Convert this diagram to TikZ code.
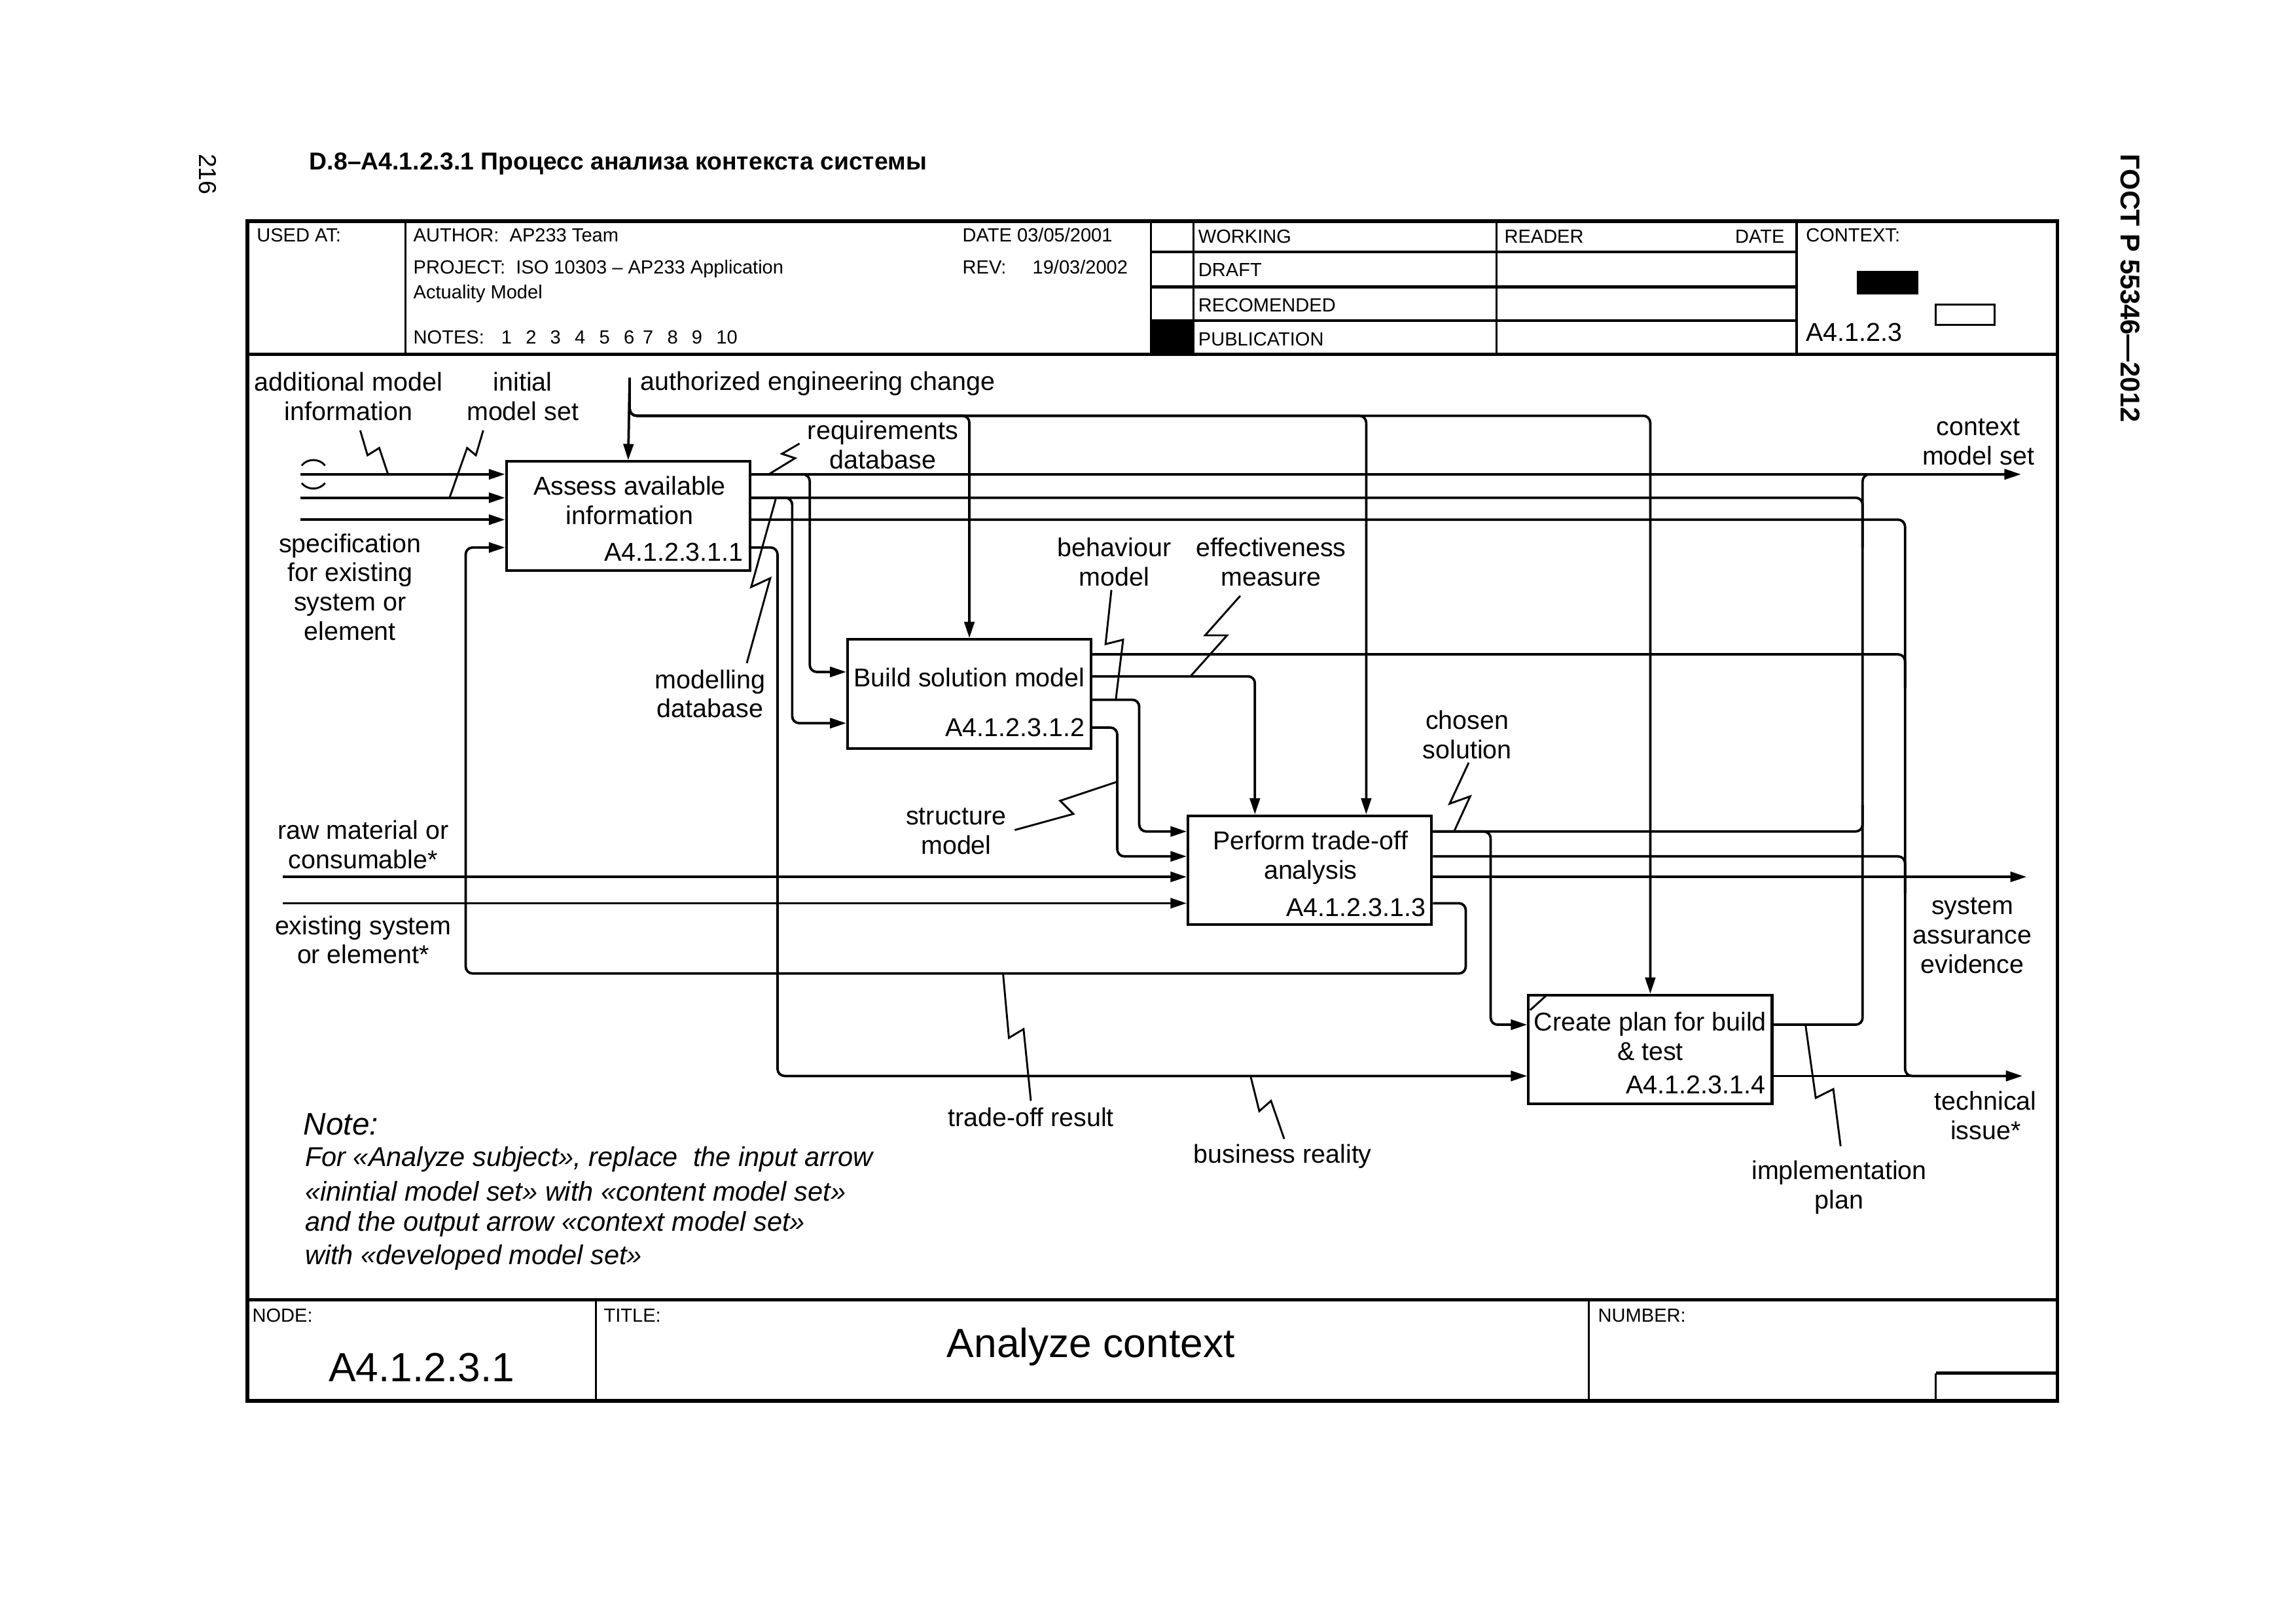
\documentclass[tikz,border=0pt]{standalone}
\usepackage{fontspec}
\setmainfont{Liberation Sans}
\usetikzlibrary{arrows.meta}
\begin{document}
\begin{tikzpicture}[x=0.18941mm,y=-0.18941mm,
  frm/.style={line width=1.3pt},
  hline/.style={line width=1.1pt},
  vline/.style={line width=0.8pt},
  procbox/.style={draw,line width=1pt,minimum width=31.5mm,minimum height=14.1mm,inner sep=0pt},
  conn/.style={line width=0.9pt,rounded corners=0.9mm},
  arr/.style={conn,-{Triangle[length=2.1mm,width=1.3mm]}},
  squig/.style={line width=0.7pt},
  lbl/.style={font=\fontsize{9.5}{10.8}\selectfont,align=center,inner sep=0pt},
  hdr/.style={font=\fontsize{7}{8}\selectfont,inner sep=0pt,anchor=base west},
  notetxt/.style={font=\fontsize{10}{11}\selectfont\itshape,inner sep=0pt,anchor=west},
  boxnum/.style={font=\fontsize{9.5}{11}\selectfont,inner sep=0pt,anchor=east},
]
\useasboundingbox (0,0) rectangle (1568,1109);
% page texts
\node[font=\fontsize{9}{10}\selectfont,rotate=-90,inner sep=0pt] (pg) at (142,119) {216};
\node[font=\fontsize{9}{10}\selectfont\bfseries,anchor=west,inner sep=0pt] (ttl) at (211,112) {D.8–A4.1.2.3.1 Процесс анализа контекста системы};
\node[font=\fontsize{10}{11}\selectfont\bfseries,rotate=-90,inner sep=0pt] (gost) at (1455,197) {ГОСТ Р 55346—2012};
% frame
\draw[frm] (169,151) rectangle (1405,957);
\draw[frm] (169,242) -- (1405,242);
\draw[frm] (169,888) -- (1405,888);
\draw[vline] (277,151) -- (277,242);
\draw[vline] (786,151) -- (786,242);
\draw[vline] (815,151) -- (815,242);
\draw[vline] (1022,151) -- (1022,242);
\draw[vline] (1227,151) -- (1227,242);
\draw[hline] (786,172) -- (1227,172);
\draw[hline] (786,196) -- (1227,196);
\draw[hline] (786,219) -- (1227,219);
\fill (786,219) rectangle (815,242);
\fill (1268,185) rectangle (1310,201);
\draw[vline] (1322,208) rectangle (1362,222);
\draw[vline] (407,888) -- (407,957);
\draw[vline] (1085,888) -- (1085,957);
\draw[vline] (1322,938) -- (1322,957);
\draw[hline] (1322,938) -- (1405,938);
% header texts
\node[hdr] (usedat) at (175,165) {USED AT:};
\node[hdr] (author) at (282,165) {AUTHOR:\ \ AP233 Team};
\node[hdr] (project) at (282,187) {PROJECT:\ \ ISO 10303 – AP233 Application};
\node[hdr] (actual) at (282,204) {Actuality Model};
\node[hdr] (notes) at (282,235) {NOTES:\hspace{2.2mm}1\hspace{1.8mm}2\hspace{1.8mm}3\hspace{1.8mm}4\hspace{1.8mm}5\hspace{1.8mm}6\hspace{1.1mm}7\hspace{1.8mm}8\hspace{1.8mm}9\hspace{1.8mm}10};
\node[hdr] (date) at (657,165) {DATE 03/05/2001};
\node[hdr] (rev) at (657,187) {REV:\hspace{3.4mm}19/03/2002};
\node[hdr] (working) at (818,166) {WORKING};
\node[hdr] (draft) at (818,189) {DRAFT};
\node[hdr] (recom) at (818,213) {RECOMENDED};
\node[hdr] (publ) at (818,236) {PUBLICATION};
\node[hdr] (reader) at (1027,166) {READER};
\node[hdr,anchor=base east] (rdate) at (1219,166) {DATE};
\node[hdr] (context) at (1233,165) {CONTEXT:};
\node[font=\fontsize{9.5}{11}\selectfont,inner sep=0pt,anchor=base west] (ctxn) at (1233,233) {A4.1.2.3};
\node[hdr] (nodel) at (172,903) {NODE:};
\node[hdr] (titlel) at (412,903) {TITLE:};
\node[hdr] (numl) at (1091,903) {NUMBER:};
\node[font=\fontsize{15}{18}\selectfont,inner sep=0pt] (nodenum) at (288,934) {A4.1.2.3.1};
\node[font=\fontsize{15}{18}\selectfont,inner sep=0pt] (titletxt) at (745,920) {Analyze context};
% level helpers
\foreach \v in {284,324,340,355,374,447,459,462,470,478,494,497,550,568,585,599,610,617,665,700,735}
  \coordinate (L\v) at (0,\v);
\foreach \v in {318,531,541,553,763,778,857,933,1001,1018,1272,1301}
  \coordinate (X\v) at (\v,0);
% boxes
\node[procbox] (b1) at (429,352.5) {};
\node[procbox] (b2) at (662,474) {};
\node[procbox] (b3) at (894.5,594.5) {};
\node[procbox] (b4) at (1127,717) {};
\node[lbl] (b1t) at (430,342) {Assess available\\information};
\node[boxnum] (b1n) at (508,377) {A4.1.2.3.1.1};
\node[lbl] (b2t) at (662,463) {Build solution model};
\node[boxnum] (b2n) at (741,497) {A4.1.2.3.1.2};
\node[lbl] (b3t) at (895,586) {Perform trade-off\\analysis};
\node[boxnum] (b3n) at (974,620) {A4.1.2.3.1.3};
\node[lbl] (b4t) at (1127,708) {Create plan for build\\\& test};
\node[boxnum] (b4n) at (1206,741) {A4.1.2.3.1.4};
\draw[squig] (1045,690) -- (1056,680);
% free ends
\coordinate (in1) at (205,324);
\coordinate (in2) at (205,340);
\coordinate (in3) at (205,355);
\coordinate (raw) at (193,599);
\coordinate (exi) at (193,617);
\coordinate (aec) at (430,258);
\coordinate (cms) at (1380,324);
\coordinate (sae) at (1384,599);
\coordinate (ti) at (1381,735);
% inputs and controls
\draw[arr] (in1) -- (b1.west |- in1);
\draw[arr] (in2) -- (b1.west |- in2);
\draw[arr] (in3) -- (b1.west |- in3);
\draw[arr] (raw) -- (b3.west |- raw);
\draw[arr] (exi) -- (b3.west |- exi);
\draw[squig] (206,318) .. controls (210,313) and (218,313) .. (222,318);
\draw[squig] (206,330) .. controls (210,335) and (218,335) .. (222,330);
\draw[arr] (aec) -- (b1.north);
\draw[arr] (aec) |- (b2.north |- L284) -- (b2.north);
\draw[arr] (aec) |- (X933 |- L284) -- (b3.north -| X933);
\draw[arr] (aec) |- (b4.north |- L284) -- (b4.north);
% outputs of b1
\draw[arr] (b1.east |- L324) -- (cms);
\draw[arr] (b1.east |- L324) -| (X553 |- L459) -- (b2.west |- L459);
\draw[conn] (b1.east |- L340) -| (X1272 |- L374);
\draw[arr] (b1.east |- L340) -| (X541 |- L494) -- (b2.west |- L494);
\draw[arr] (b1.east |- L355) -| (X1301 |- L735) -- (ti);
\draw[arr] (b1.east |- L374) -| (X531 |- L735) -- (b4.west |- L735);
% outputs of b2
\draw[conn] (b2.east |- L447) -| (X1301 |- L470);
\draw[arr] (b2.east |- L462) -| (b3.north -| X857);
\draw[arr] (b2.east |- L478) -| (X778 |- L568) -- (b3.west |- L568);
\draw[arr] (b2.east |- L497) -| (X763 |- L585) -- (b3.west |- L585);
% outputs of b3
\draw[arr] (b3.east |- L568) -| (X1272 |- L324) -- (cms);
\draw[arr] (b3.east |- L568) -| (X1018 |- L700) -- (b4.west |- L700);
\draw[conn] (b3.east |- L585) -| (X1301 |- L610);
\draw[arr] (b3.east |- L599) -- (sae);
\draw[arr] (b3.east |- L617) -| (X1001 |- L665) -| (X318 |- L374) -- (b1.west |- L374);
% outputs of b4
\draw[conn] (b4.east |- L700) -| (X1272 |- L550);
\draw[arr] (b4.east |- L735) -- (ti);
% labels
\node[lbl] (t-ami) at (238,271) {additional model\\information};
\node[lbl] (t-ims) at (357,271) {initial\\model set};
\node[lbl,anchor=west] (t-aec) at (437,262) {authorized engineering change};
\node[lbl] (t-rdb) at (603,304) {requirements\\database};
\node[lbl] (t-cms) at (1351,302) {context\\model set};
\node[lbl] (t-spec) at (239,401) {specification\\for existing\\system or\\element};
\node[lbl] (t-bm) at (761,384) {behaviour\\model};
\node[lbl] (t-em) at (868,384) {effectiveness\\measure};
\node[lbl] (t-mdb) at (485,474) {modelling\\database};
\node[lbl] (t-cs) at (1002,502) {chosen\\solution};
\node[lbl] (t-sm) at (653,568) {structure\\model};
\node[lbl] (t-raw) at (248,577) {raw material or\\consumable*};
\node[lbl] (t-exi) at (248,642) {existing system\\or element*};
\node[lbl] (t-sae) at (1347,639) {system\\assurance\\evidence};
\node[lbl] (t-tor) at (704,763) {trade-off result};
\node[lbl] (t-br) at (876,790) {business reality};
\node[lbl] (t-ti) at (1356,762) {technical\\issue*};
\node[lbl] (t-ip) at (1256,811) {implementation\\plan};
% squiggles
\draw[squig] (246,294) -- (251,311) -- (259,306) -- (265,324);
\draw[squig] (330,294) -- (325,311) -- (319,306) -- (307,340);
\draw[squig] (546,303) -- (534,310) -- (543,313) -- (525,324);
\draw[squig] (510,453) -- (526,395) -- (513,401) -- (530,340);
\draw[squig] (759,403) -- (755,440) -- (767,437) -- (762,478);
\draw[squig] (847,407) -- (823,434) -- (838,434) -- (813,462);
\draw[squig] (693,567) -- (733,556) -- (724,547) -- (763,534);
\draw[squig] (1003,521) -- (990,549) -- (1004,544) -- (993,568);
\draw[squig] (685,665) -- (689,709) -- (699,703) -- (704,752);
\draw[squig] (854,735) -- (860,759) -- (868,752) -- (877,778);
\draw[squig] (1233,700) -- (1240,750) -- (1252,744) -- (1257,783);
% note
\node[font=\fontsize{11.5}{13}\selectfont\itshape,inner sep=0pt,anchor=west] (noteh) at (207,768) {Note:};
\node[notetxt] (n1) at (208,792) {For «Analyze subject», replace\ \ the input arrow};
\node[notetxt] (n2) at (208,814) {«inintial model set» with «content model set»};
\node[notetxt] (n3) at (208,836) {and the output arrow «context model set»};
\node[notetxt] (n4) at (208,859) {with «developed model set»};
\end{tikzpicture}
\end{document}
